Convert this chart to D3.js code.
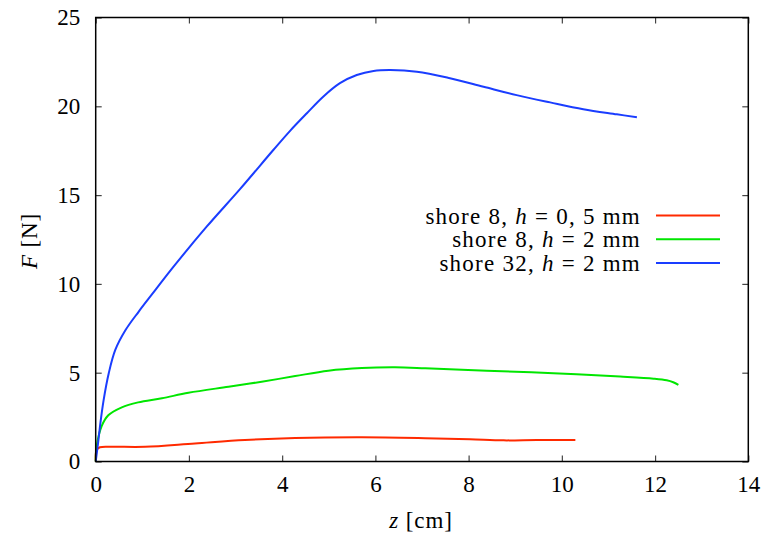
<!DOCTYPE html>
<html>
<head>
<meta charset="utf-8">
<script src="https://cdn.jsdelivr.net/npm/d3@7"></script>
<style>
  html, body { margin: 0; padding: 0; background: #fff; }
  svg { display: block; font-family: "Liberation Serif", "DejaVu Serif", serif; }
</style>
</head>
<body>
<svg id="chart" width="762" height="535"></svg>
<script>
// ---- data ----
const xTicks = [0, 2, 4, 6, 8, 10, 12, 14];
const yTicks = [0, 5, 10, 15, 20, 25];

const blueZ = [0, 0.05, 0.10, 0.17, 0.28, 0.42, 0.64, 0.92, 1.21, 1.67, 2.38, 3.10, 3.81, 4.17, 4.53, 4.88, 5.24, 5.60, 5.96, 6.32, 6.89, 7.60, 8.32, 9.03, 9.75, 10.46, 11.18, 11.61];
const blueF = [0, 1.02, 2.15, 3.46, 4.97, 6.28, 7.40, 8.43, 9.42, 10.97, 13.22, 15.35, 17.54, 18.62, 19.61, 20.54, 21.30, 21.76, 21.99, 22.04, 21.95, 21.58, 21.10, 20.63, 20.22, 19.84, 19.55, 19.38];

const greenZ = [0, 0.02, 0.13, 0.27, 0.56, 0.91, 1.42, 1.99, 2.85, 3.56, 4.28, 4.99, 5.71, 6.42, 7.07, 8.39, 9.82, 11.25, 11.97, 12.25, 12.39, 12.50];
const greenF = [0, 0.85, 2.0, 2.6, 3.05, 3.33, 3.56, 3.87, 4.21, 4.49, 4.81, 5.11, 5.26, 5.30, 5.25, 5.11, 4.97, 4.78, 4.66, 4.57, 4.46, 4.31];

const redZ = [0, 0.02, 0.09, 0.34, 1.06, 2.13, 3.20, 4.28, 5.71, 7.07, 8.03, 8.75, 9.46, 10.29];
const redF = [0, 0.65, 0.80, 0.83, 0.83, 1.02, 1.21, 1.32, 1.36, 1.31, 1.25, 1.19, 1.21, 1.21];

const seriesNames = ["shore 8, |h| = 0, 5 mm", "shore 8, |h| = 2 mm", "shore 32, |h| = 2 mm"];
const seriesColors = ["#ff2a00", "#00e600", "#1a3dff"];

// ---- layout ----
const W = 762, H = 535;
const margin = { left: 95.7, top: 17.5, right: 13.7, bottom: 73.5 };
const svg = d3.select("#chart");
const x = d3.scaleLinear().domain([0, 14]).range([margin.left, W - margin.right]);
const y = d3.scaleLinear().domain([0, 25]).range([H - margin.bottom, margin.top]);

const fontSize = 23;

// axes
const gB = svg.append("g").attr("transform", `translate(0,${y(0)})`)
  .call(d3.axisBottom(x).tickValues(xTicks).tickSizeInner(-6).tickSizeOuter(0).tickPadding(14));
const gL = svg.append("g").attr("transform", `translate(${x(0)},0)`)
  .call(d3.axisLeft(y).tickValues(yTicks).tickSizeInner(-6).tickSizeOuter(0).tickPadding(15.5));
const gT = svg.append("g").attr("transform", `translate(0,${y(25)})`)
  .call(d3.axisTop(x).tickValues(xTicks).tickSizeInner(-6).tickSizeOuter(0).tickFormat(""));
const gR = svg.append("g").attr("transform", `translate(${x(14)},0)`)
  .call(d3.axisRight(y).tickValues(yTicks).tickSizeInner(-6).tickSizeOuter(0).tickFormat(""));

[gB, gL, gT, gR].forEach(g => {
  g.select(".domain").remove();
  g.selectAll(".tick line").attr("stroke", "#444").attr("stroke-width", 1.2);
  g.selectAll(".tick text").attr("font-size", fontSize).attr("fill", "#000")
    .attr("font-family", "Liberation Serif, DejaVu Serif, serif");
});

// series lines
const line = d3.line().x(d => x(d[0])).y(d => y(d[1])).curve(d3.curveCatmullRom.alpha(0.5));
const series = [
  d3.zip(redZ, redF),
  d3.zip(greenZ, greenF),
  d3.zip(blueZ, blueF)
];
series.forEach((pts, i) => {
  svg.append("path").datum(pts)
    .attr("d", line)
    .attr("fill", "none")
    .attr("stroke", seriesColors[i])
    .attr("stroke-width", 2)
    .attr("stroke-linejoin", "round");
});

// frame
svg.append("rect")
  .attr("x", x(0)).attr("y", y(25))
  .attr("width", x(14) - x(0)).attr("height", y(0) - y(25))
  .attr("fill", "none").attr("stroke", "#000").attr("stroke-width", 1.5);

// legend
const legX = 641, legLineX1 = 656, legLineX2 = 720;
const legY0 = 215.5, legDY = 23.7;
seriesNames.forEach((name, i) => {
  const yy = legY0 + i * legDY;
  const parts = name.split("|");
  const t = svg.append("text")
    .attr("x", legX).attr("y", yy).attr("dy", "0.35em")
    .attr("text-anchor", "end").attr("font-size", fontSize).attr("fill", "#000")
    .attr("letter-spacing", 1.25);
  t.append("tspan").text(parts[0]);
  t.append("tspan").text(parts[1]).attr("font-style", "italic");
  t.append("tspan").text(parts[2]);
  t.style("white-space", "pre");
  svg.append("line")
    .attr("x1", legLineX1).attr("x2", legLineX2)
    .attr("y1", yy).attr("y2", yy)
    .attr("stroke", seriesColors[i]).attr("stroke-width", 2);
});

// axis labels
const xl = svg.append("text")
  .attr("x", 421).attr("y", 528)
  .attr("text-anchor", "middle").attr("font-size", fontSize).attr("letter-spacing", 0.9)
  .style("white-space", "pre");
xl.append("tspan").text("z").attr("font-style", "italic");
xl.append("tspan").text(" [cm]");

const yl = svg.append("text")
  .attr("transform", "translate(37,241) rotate(-90)")
  .attr("text-anchor", "middle").attr("font-size", fontSize).attr("letter-spacing", 0.9)
  .style("white-space", "pre");
yl.append("tspan").text("F").attr("font-style", "italic");
yl.append("tspan").text(" [N]");
</script>
</body>
</html>
